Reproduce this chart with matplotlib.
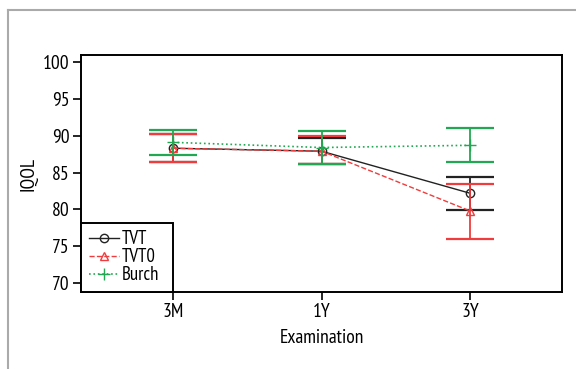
import numpy as np
import matplotlib
matplotlib.use("Agg")
import matplotlib.pyplot as plt
from matplotlib.lines import Line2D

plt.rcParams['font.family'] = ['PT Sans Narrow', 'Roboto Condensed', 'Archivo Narrow', 'DejaVu Sans']

# 数据
visits = ["3M", "1Y", "3Y"]
tvt_mean = [88.3, 87.9, 82.2]
tvt_hi = [90.2, 89.65, 84.4]
tvt_lo = [86.4, 86.2, 79.9]
tvto_mean = [88.3, 87.9, 79.8]
tvto_hi = [90.2, 90.0, 83.45]
tvto_lo = [86.4, 86.2, 76.0]
burch_mean = [89.1, 88.4, 88.7]
burch_hi = [90.8, 90.65, 91.05]
burch_lo = [87.4, 86.2, 86.4]

x = np.arange(1, len(visits) + 1)

fig = plt.figure(figsize=(5.76, 3.69), dpi=100)
ax = fig.add_axes([81 / 576, 1 - 292 / 369, 481 / 576, 237 / 369])

black = "#222222"
red = "#f03c3c"
green = "#22a852"

series = [
    ("TVT", tvt_mean, tvt_lo, tvt_hi, black, "-", "o"),
    ("TVT0", tvto_mean, tvto_lo, tvto_hi, red, "--", "^"),
    ("Burch", burch_mean, burch_lo, burch_hi, green, ":", "+"),
]

for name, m, lo, hi, c, ls, mk in series:
    m = np.array(m)
    err = [m - np.array(lo), np.array(hi) - m]
    ax.errorbar(x, m, yerr=err, fmt="none", ecolor=c, elinewidth=1.3,
                capsize=17, capthick=1.6)
    ax.plot(x, m, linestyle=ls, color=c, lw=1.0 if ls != ":" else 1.2,
            marker=mk, markersize=6 if mk != "+" else 9, mfc="none",
            mec=c, mew=1.0, label=name)

ax.set_xlim(0.38, 3.62)
ax.set_ylim(68.8, 100.95)
ax.set_yticks([70, 75, 80, 85, 90, 95, 100])
ax.set_xticks(x)
ax.set_xticklabels(visits)
ax.tick_params(axis="both", labelsize=14, length=6, width=1.2, direction="out", pad=2)
ax.set_xlabel("Examination", fontsize=14, labelpad=6)
ax.set_ylabel("IQOL", fontsize=14, labelpad=4)
for s in ax.spines.values():
    s.set_linewidth(1.4)

leg = ax.legend(loc="lower left", bbox_to_anchor=(0, 0, 92 / 481, 0.3),
                mode="expand", borderaxespad=0, fancybox=False,
                edgecolor="black", fontsize=13.5, handlelength=1.6,
                handletextpad=0.15, labelspacing=0.0, borderpad=0.4,
                framealpha=1)
leg.get_frame().set_linewidth(1.4)

# 外框（灰色，上边与左边）
fig.add_artist(Line2D([8 / 576, 1], [1 - 10 / 369, 1 - 10 / 369], color="#aaaaaa", lw=1.5))
fig.add_artist(Line2D([8 / 576, 8 / 576], [0, 1 - 10 / 369], color="#aaaaaa", lw=1.5))

fig.savefig("out.png", dpi=100)
